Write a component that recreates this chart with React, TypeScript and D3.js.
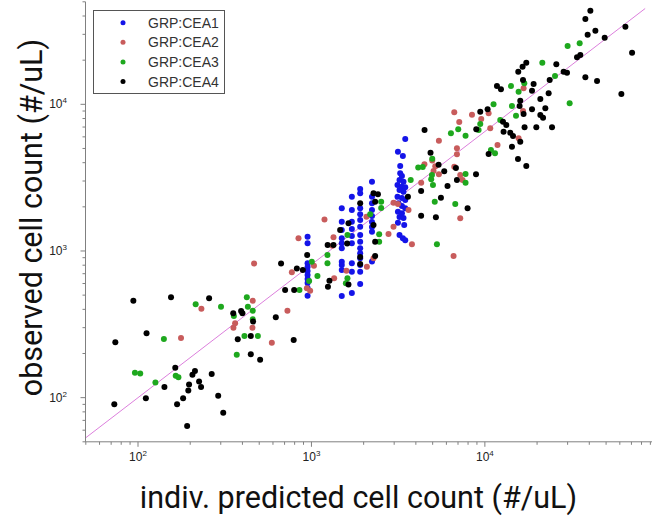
import React from 'react';
import * as d3 from 'd3';

const groupNames = ['GRP:CEA1', 'GRP:CEA2', 'GRP:CEA3', 'GRP:CEA4'];
const groupColors = ['#1414e8', '#c85c5c', '#1ea81e', '#000000'];

const cea1: [number, number][] = [
  [950,1251],[950,1128],[950,824],[950,778],[950,730],[950,686],[950,644],[950,605],[950,559],[950,495],
  [1496,1954],[1496,1583],[1496,1390],[1496,1220],[1496,1130],[1496,1043],[1496,845],[1496,803],[1496,742],[1496,493],
  [1710,2344],[1710,1902],[1710,1583],[1710,1411],[1710,1265],[1710,1130],[1710,824],[1710,722],[1710,517],
  [1910,2645],[1910,2473],[1910,1954],[1910,1778],[1910,1626],[1910,1464],[1910,1286],[1910,1157],[1910,1043],[1910,964],[1910,891],[1910,803],[1910,722],[1910,595],
  [2234,2967],[2234,2344],[2234,2114],[2234,1902],[2234,1731],[2234,1576],[2234,1457],[2234,1353],[2234,848],
  [3474,5800],[3153,4750],[3366,4440],[3250,3795],[3250,3386],[3324,3244],[3220,3047],[3395,2967],[3135,2819],[3324,2743],[3474,2716],[3220,2604],[3395,2535],[3135,2344],[3324,2296],[3474,2226],[3178,2114],[3324,2025],[3474,1954],[3153,1852],[3324,1806],[3220,1704],[3395,1677],[3153,1559],[3427,1504],[3220,1286],[3366,1220],[3474,1182],
];

const cea2: [number, number][] = [
  [177,255],[232,404],[355,300],[363,322],[457,300],[459,458],[467,820],[591,237],[727,392],[771,716],[842,1220],[941,557],[983,536],[1034,793],[1189,1640],[1340,1240],[1322,1087],[1352,652],[1591,734],[2088,781],[2280,892],[2782,1305],[3796,1111],[2076,1713],[2973,2135],[3152,2091],[2973,1464],[3629,1903],[4294,2922],[4481,3906],[4972,4139],[5175,3786],[5059,3510],[5432,3333],[5432,5648],[6662,3755],[7211,3299],[7434,3048],[7211,1671],[6902,5013],[6902,4562],[6662,8819],[7117,7574],[8426,8499],[9528,7938],[10510,8685],[10740,6862],[11830,5282],[15650,5866],[16590,9000],[16720,12850],[6600,924],
];

const cea3: [number, number][] = [
  [96,148],[103,146],[126,127],[141,251],[165,141],[171,138],[215,433],[301,417],[357,360],[371,196],[411,263],[424,484],[430,417],[459,392],[459,342],[491,263],[853,542],[970,624],[1083,675],[1005,845],[1237,940],[1237,824],[1613,1286],[1613,652],[1580,602],[2458,1299],[2458,1158],[5290,1111],[2181,1778],[2524,2168],[2524,1964],[3736,3048],[4127,3708],[4383,3738],[4972,4252],[4952,3299],[4904,3087],[5020,2820],[5141,2168],[6751,2091],[7738,3348],[7738,2922],[6372,6345],[7022,6755],[7738,6107],[9201,6681],[9406,7339],[10840,4881],[11440,4635],[12270,7816],[11220,10000],[14330,9736],[15120,8359],[14140,13320],[16880,13900],[15650,12190],[21440,19220],[25380,15590],[30820,10160],[30000,24970],[35200,26060],
];

const cea4: [number, number][] = [
  [94,458],[155,484],[74,239],[112,275],[257,476],[73,90],[111,99],[142,118],[164,160],[168,90],[182,99],[195,112],[197,123],[206,143],[213,152],[225,129],[231,118],[266,145],[290,103],[310,79],[192,64],
  [354,376],[393,390],[400,376],[461,330],[376,250],[447,263],[447,198],[506,181],[623,353],[790,247],[705,542],[795,542],[668,822],[824,760],[892,742],[945,940],
  [1240,1100],[1340,1100],[1270,627],[1245,571],[1635,591],[1635,1545],[1607,1126],[1910,910],[1910,815],[1464,1390],[1910,2115],[2330,1158],[2330,924],[2280,1505],[2280,2474],[2417,2434],[2330,2168],
  [3600,2345],[4290,2564],[4290,1740],[5220,1698],[7950,1955],[5580,2309],[6090,2773],[6900,3048],[8890,3333],[5830,3493],[6810,3679],[5410,3877],[4860,4680],[4490,6681],
  [10510,4583],[14330,5140],[15520,4237],[17330,3796],[16000,5560],[14010,6405],[14530,6079],[12820,6505],[12720,7610],[13290,7230],[8920,6755],[9406,8905],[10370,9248],[11740,13320],[12380,12650],[15860,9736],[16000,10580],
  [15580,16680],[16500,18050],[17330,19220],[16590,14640],[18700,12380],[19100,13750],[18700,9250],[16720,8590],[16940,6970],[19800,6970],[24390,6970],[20880,8460],[21650,8110],[22320,9390],[20880,10870],[23320,11890],[23640,14640],
  [25820,18740],[28450,16680],[29760,16420],[37970,15280],[44340,14410],[61240,11760],[33990,20920],[35520,21690],[70610,22480],[49070,28460],[39140,29830],[43370,31750],[64610,33800],[37970,38130],[40570,43450],
];

const groupData = [cea1, cea2, cea3, cea4];

// reference line endpoints
const refLine: [number, number][] = [[50, 53.3], [84000, 45000]];

const xDomain: [number, number] = [50, 100000];
const yDomain: [number, number] = [50, 50000];
const majorTicks = [100, 1000, 10000];

const xTitle = 'indiv. predicted cell count (#/uL)';
const yTitle = 'observed cell count (#/uL)';

export default function App() {
  const W = 652, H = 521;
  const x = d3.scaleLog().domain(xDomain).range([85.8, 658.3]);
  const y = d3.scaleLog().domain(yDomain).range([441.8, 1.8]);
  const axisColor = '#808080';
  const x0 = 85.5, y0 = 441.8;

  const isMajor = (v: number) => Math.abs(Math.log10(v) - Math.round(Math.log10(v))) < 1e-9;
  const xTicks = x.ticks().filter(v => v >= xDomain[0] && v <= xDomain[1]);
  const yTicks = y.ticks().filter(v => v >= yDomain[0] && v <= yDomain[1]);
  const line = d3.line<[number, number]>().x(d => x(d[0])).y(d => y(d[1]));

  return (
    <svg width={W} height={H} style={{ position: 'absolute', left: 0, top: 0, background: '#fff' }}
      fontFamily="'Liberation Sans', Arial, sans-serif">
      <rect x={0} y={0} width={W} height={H} fill="#fff" />
      <path d={line(refLine) || ''} stroke="#dc7fdc" strokeWidth={1} fill="none" />
      <line x1={x0} x2={x0} y1={y(yDomain[1])} y2={y0} stroke={axisColor} strokeWidth={1} />
      <line x1={x0} x2={W} y1={y0} y2={y0} stroke={axisColor} strokeWidth={1} />
      {xTicks.map((v, i) => (
        <line key={'xt' + i} x1={x(v)} x2={x(v)} y1={y0} y2={y0 + (isMajor(v) ? 5 : 3)} stroke={axisColor} strokeWidth={1} />
      ))}
      {yTicks.map((v, i) => (
        <line key={'yt' + i} x1={x0} x2={x0 - (isMajor(v) ? 5 : 3)} y1={y(v)} y2={y(v)} stroke={axisColor} strokeWidth={1} />
      ))}
      {majorTicks.map((v, i) => (
        <text key={'xl' + i} x={x(v)} y={460.5} fontSize={12} fill="#222" textAnchor="middle">
          10<tspan dy={-5} fontSize={8}>{Math.round(Math.log10(v))}</tspan>
        </text>
      ))}
      {majorTicks.map((v, i) => (
        <text key={'yl' + i} x={67} y={y(v) + 4} fontSize={12} fill="#222" textAnchor="end">
          10<tspan dy={-5} fontSize={8}>{Math.round(Math.log10(v))}</tspan>
        </text>
      ))}
      {groupData.map((pts, g) => (
        <g key={'g' + g} fill={groupColors[g]}>
          {pts.map((d, i) => (
            <circle key={i} cx={x(d[0])} cy={y(d[1])} r={3} />
          ))}
        </g>
      ))}
      <rect x={93.5} y={10.5} width={131} height={83} fill="#fff" stroke="#555" strokeWidth={1} />
      {groupNames.map((n, i) => (
        <g key={'lg' + i}>
          <circle cx={123} cy={22.7 + i * 19.6} r={2.5} fill={groupColors[i]} />
          <text x={148} y={22.7 + i * 19.6 + 5} fontSize={14} fill="#333">{n}</text>
        </g>
      ))}
      <text x={358.5} y={508} fontSize={30.5} fontFamily="Roboto, sans-serif" fill="#111" textAnchor="middle">{xTitle}</text>
      <text transform="translate(41.5,217.5) rotate(-90)" fontSize={30.5} fontFamily="Roboto, sans-serif" fill="#111" textAnchor="middle">{yTitle}</text>
    </svg>
  );
}
